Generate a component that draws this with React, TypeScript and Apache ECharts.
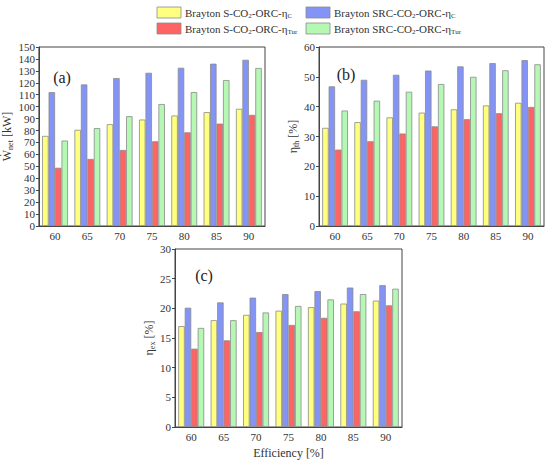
import React, { useEffect, useRef } from "react";
import * as echarts from "echarts";

const categories = ["60", "65", "70", "75", "80", "85", "90"];

const nameSEtaC = "Brayton S-CO2-ORC-ηC";
const nameSRCEtaC = "Brayton SRC-CO2-ORC-ηC";
const nameSEtaTur = "Brayton S-CO2-ORC-ηTur";
const nameSRCEtaTur = "Brayton SRC-CO2-ORC-ηTur";

// (a) net power [kW]
const wNetSEtaC = [75.5, 80.6, 85.3, 89.2, 92.6, 95.4, 98.2];
const wNetSRCEtaC = [112.2, 118.6, 124.0, 128.4, 132.6, 136.0, 139.3];
const wNetSEtaTur = [48.8, 56.2, 63.7, 71.0, 78.5, 85.8, 93.1];
const wNetSRCEtaTur = [71.6, 82.0, 92.0, 102.2, 112.2, 122.3, 132.4];

// (b) thermal efficiency [%]
const etaThSEtaC = [32.9, 34.8, 36.4, 38.0, 39.1, 40.4, 41.3];
const etaThSRCEtaC = [46.8, 49.0, 50.7, 52.1, 53.5, 54.6, 55.6];
const etaThSEtaTur = [25.6, 28.4, 31.0, 33.4, 35.8, 37.8, 39.9];
const etaThSRCEtaTur = [38.7, 42.0, 45.0, 47.6, 50.0, 52.2, 54.2];

// (c) exergy efficiency [%]
const etaExSEtaC = [17.0, 18.0, 18.9, 19.6, 20.2, 20.8, 21.3];
const etaExSRCEtaC = [20.1, 21.0, 21.8, 22.4, 22.9, 23.5, 23.9];
const etaExSEtaTur = [13.2, 14.6, 16.0, 17.2, 18.4, 19.5, 20.5];
const etaExSRCEtaTur = [16.7, 18.0, 19.3, 20.4, 21.5, 22.4, 23.3];

const FONT = "'Liberation Serif', 'DejaVu Serif', serif";
const TXT = "#333";

const colors: Record<string, string> = {
  [nameSEtaC]: "#ffff80",
  [nameSRCEtaC]: "#8494f6",
  [nameSEtaTur]: "#ff6464",
  [nameSRCEtaTur]: "#b4f8b4",
};

const legendRich: Record<string, string> = {
  [nameSEtaC]: "{t|Brayton S-CO}{s|2}{t|-ORC-η}{s|C}",
  [nameSRCEtaC]: "{t|Brayton SRC-CO}{s|2}{t|-ORC-η}{s|C}",
  [nameSEtaTur]: "{t|Brayton S-CO}{s|2}{t|-ORC-η}{s|Tur}",
  [nameSRCEtaTur]: "{t|Brayton SRC-CO}{s|2}{t|-ORC-η}{s|Tur}",
};

const richStyles = (size: number, fill = false) => ({
  t: { fontSize: size, lineHeight: size + 3, fontFamily: FONT, fontWeight: "normal", ...(fill ? { fill: TXT } : { color: TXT }) },
  s: {
    fontSize: Math.round(size * 0.65),
    lineHeight: Math.round(size * 0.7),
    verticalAlign: "bottom",
    fontFamily: FONT,
    fontWeight: "normal",
    ...(fill ? { fill: TXT } : { color: TXT }),
  },
});

export default function App() {
  const ref = useRef<HTMLDivElement>(null);

  useEffect(() => {
    document.body.style.margin = "0";
    if (!ref.current) return;
    const chart = echarts.init(ref.current, undefined, { renderer: "svg" });

    const grids = [
      { left: 38, top: 47, width: 227, height: 179 },
      { left: 319, top: 47, width: 225, height: 179 },
      { left: 175, top: 249, width: 227, height: 178 },
    ].map((g) => ({ ...g, show: true, borderColor: "#444", borderWidth: 1, backgroundColor: "transparent" }));

    const xAxes = [0, 1, 2].map((i) => ({
      type: "category",
      gridIndex: i,
      data: categories,
      axisLine: { lineStyle: { color: "#444" } },
      axisTick: { alignWithLabel: true, length: 3, lineStyle: { color: "#444" } },
      axisLabel: { color: TXT, fontFamily: FONT, fontSize: 11, margin: 4 },
      name: i === 2 ? "Efficiency [%]" : "",
      nameLocation: "middle",
      nameGap: 20,
      nameTextStyle: { color: TXT, fontFamily: FONT, fontSize: 12 },
    }));

    const yCfg = [
      { max: 150, interval: 10, name: "{t|Ẇ}{s|net}{t| [kW]}", gap: 20 },
      { max: 60, interval: 10, name: "{t|η}{s|th}{t| [%]}", gap: 15 },
      { max: 30, interval: 5, name: "{t|η}{s|ex}{t| [%]}", gap: 13 },
    ];
    const yAxes = yCfg.map((c, i) => ({
      type: "value",
      gridIndex: i,
      min: 0,
      max: c.max,
      interval: c.interval,
      splitLine: { show: false },
      axisLine: { show: true, lineStyle: { color: "#444" } },
      axisTick: { show: true, length: 3, lineStyle: { color: "#444" } },
      axisLabel: { color: TXT, fontFamily: FONT, fontSize: 11, margin: 4 },
      name: c.name,
      nameLocation: "middle",
      nameGap: c.gap,
      nameTextStyle: { rich: richStyles(12) },
    }));

    const panelData = [
      [wNetSEtaC, wNetSRCEtaC, wNetSEtaTur, wNetSRCEtaTur],
      [etaThSEtaC, etaThSRCEtaC, etaThSEtaTur, etaThSRCEtaTur],
      [etaExSEtaC, etaExSRCEtaC, etaExSEtaTur, etaExSRCEtaTur],
    ];
    const order = [nameSEtaC, nameSRCEtaC, nameSEtaTur, nameSRCEtaTur];

    const series: any[] = [];
    panelData.forEach((set, p) => {
      set.forEach((vals, k) => {
        series.push({
          type: "bar",
          name: order[k],
          xAxisIndex: p,
          yAxisIndex: p,
          data: vals,
          barGap: "0%",
          barCategoryGap: "20%",
          itemStyle: { color: colors[order[k]], borderColor: "#8a8a8a", borderWidth: 0.8 },
        });
      });
    });

    const legendItems = [
      { name: nameSEtaC, x: 157, y: 7 },
      { name: nameSEtaTur, x: 157, y: 23 },
      { name: nameSRCEtaC, x: 306, y: 7 },
      { name: nameSRCEtaTur, x: 306, y: 23 },
    ];
    const legendGraphics: any[] = [];
    legendItems.forEach((it) => {
      legendGraphics.push({
        type: "rect",
        shape: { x: it.x, y: it.y, width: 24, height: 11 },
        style: { fill: colors[it.name], stroke: "#8a8a8a", lineWidth: 0.8 },
      });
      legendGraphics.push({
        type: "text",
        x: it.x + 28,
        y: it.y + 5.5,
        style: {
          text: legendRich[it.name],
          verticalAlign: "middle",
          align: "left",
          rich: richStyles(11, true),
        },
      });
    });

    const labelStyle = { fontFamily: FONT, fontSize: 16, fill: "#222", align: "center", verticalAlign: "middle" };

    chart.setOption({
      animation: false,
      backgroundColor: "#fff",
      grid: grids,
      xAxis: xAxes,
      yAxis: yAxes,
      series,
      graphic: [
        ...legendGraphics,
        { type: "text", x: 62, y: 77, style: { ...labelStyle, text: "(a)" } },
        { type: "text", x: 346, y: 74, style: { ...labelStyle, text: "(b)" } },
        { type: "text", x: 204, y: 275, style: { ...labelStyle, text: "(c)" } },
      ],
    });

    return () => chart.dispose();
  }, []);

  return <div ref={ref} style={{ width: 550, height: 460 }} />;
}
